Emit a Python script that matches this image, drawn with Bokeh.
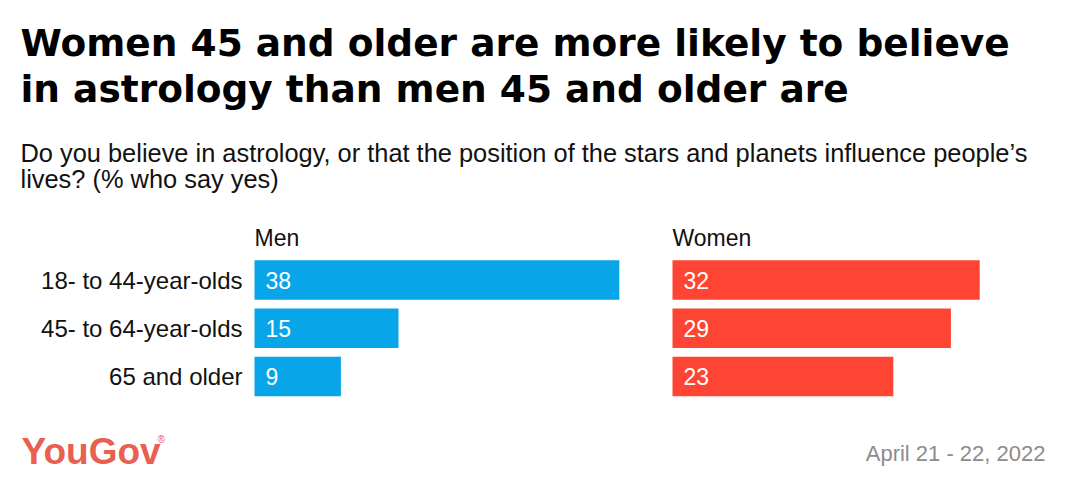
from bokeh.plotting import figure
from bokeh.models import Range1d, Label, ColumnDataSource
from bokeh.core.properties import value
from bokeh.embed import file_html
from bokeh.resources import INLINE

# ---- data ----
categories = ["18- to 44-year-olds", "45- to 64-year-olds", "65 and older"]
men = [38, 15, 9]
women = [32, 29, 23]
panel_titles = ["Men", "Women"]
title_lines = ["Women 45 and older are more likely to believe",
               "in astrology than men 45 and older are"]
subtitle_lines = ["Do you believe in astrology, or that the position of the stars and planets influence people\u2019s",
                  "lives? (% who say yes)"]
date_text = "April 21 - 22, 2022"

W, H = 1050, 476
PX_PER_UNIT = 9.6
MEN_ZERO = 254      # px from left of canvas
WOMEN_ZERO = 672
ROW0 = 279.5        # px from top, centre of first row
PITCH = 48.25

FONT = "Liberation Sans"
TITLE_FONT = "DejaVu Sans"
BLUE = "#09a5e9"
RED = "#fe4432"

p = figure(width=W, height=H, output_backend="svg", toolbar_location=None,
           min_border=0, outline_line_color=None,
           x_range=Range1d(-MEN_ZERO / PX_PER_UNIT, (W - MEN_ZERO) / PX_PER_UNIT),
           y_range=Range1d((H - ROW0) / PITCH, -ROW0 / PITCH))
p.extra_x_ranges = {"women": Range1d(-WOMEN_ZERO / PX_PER_UNIT, (W - WOMEN_ZERO) / PX_PER_UNIT)}
p.axis.visible = False
p.grid.visible = False
p.background_fill_color = "white"
p.border_fill_color = "white"

rows = list(range(len(categories)))
src = ColumnDataSource(dict(y=rows, cat=categories, men=men, women=women,
                            men_lbl=[str(v) for v in men], women_lbl=[str(v) for v in women],
                            zero=[0] * len(rows)))

BAR_H = 39.5 / PITCH
p.hbar(y="y", left=0, right="men", height=BAR_H, source=src, fill_color=BLUE, line_color=None)
p.hbar(y="y", left=0, right="women", height=BAR_H, source=src, fill_color=RED, line_color=None,
       x_range_name="women")

p.text(x="zero", y="y", text="men_lbl", source=src, x_offset=11, text_color="white",
       text_font=value(FONT), text_font_size="23px", text_baseline="middle", text_align="left")
p.text(x="zero", y="y", text="women_lbl", source=src, x_offset=11, text_color="white",
       text_font=value(FONT), text_font_size="23px", text_baseline="middle", text_align="left",
       x_range_name="women")
p.text(x="zero", y="y", text="cat", source=src, x_offset=-12, text_color="#111111",
       text_font=value(FONT), text_font_size="24px", text_baseline="middle", text_align="right")

def sy(ref_y):
    return H - ref_y

# panel headers
for i, rn in enumerate(["default", "women"]):
    p.add_layout(Label(x=0, y=sy(237), x_units="data", y_units="screen", text=panel_titles[i],
                       x_range_name=rn,
                       text_font=FONT, text_font_size="23px", text_color="#111111",
                       text_baseline="middle"))

# title
for t, cy in zip(title_lines, [42, 88]):
    p.add_layout(Label(x=20, y=sy(cy), x_units="screen", y_units="screen", text=t,
                       text_font=TITLE_FONT, text_font_style="bold", text_font_size="37.5px",
                       text_color="#000000", text_baseline="middle"))
# subtitle
for t, cy in zip(subtitle_lines, [152, 178]):
    p.add_layout(Label(x=20, y=sy(cy), x_units="screen", y_units="screen", text=t,
                       text_font=FONT, text_font_size="25.4px",
                       text_color="#111111", text_baseline="middle"))

# footer
p.add_layout(Label(x=21, y=sy(450.5), x_units="screen", y_units="screen", text="YouGov",
                   text_font=FONT, text_font_style="bold", text_font_size="37px",
                   text_color="#e8604f", text_baseline="middle"))
p.add_layout(Label(x=157, y=sy(439), x_units="screen", y_units="screen", text="\u00ae",
                   text_font=FONT, text_font_size="10px",
                   text_color="#e8604f", text_baseline="middle"))
p.add_layout(Label(x=1045, y=sy(452.5), x_units="screen", y_units="screen", text=date_text,
                   text_font=FONT, text_font_size="22px", text_align="right",
                   text_color="#8c8c8c", text_baseline="middle"))

open("out.html", "w").write(file_html(p, INLINE))
